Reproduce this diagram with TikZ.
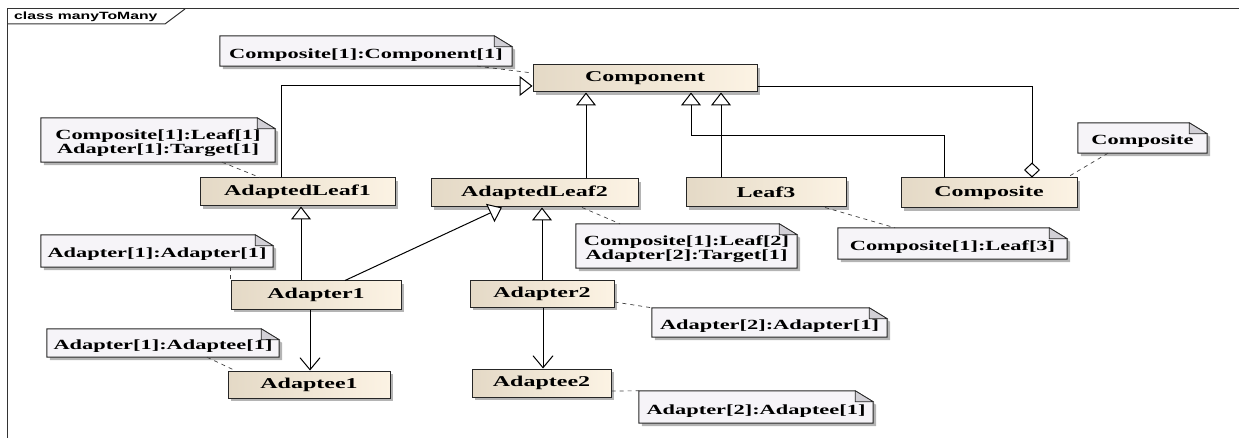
\documentclass[tikz,border=0pt]{standalone}
\usepackage{fontspec}
\usetikzlibrary{arrows.meta,shadows,calc,backgrounds}
\newfontfamily\umlfont{Liberation Serif}[FakeStretch=1.6]
\newfontfamily\framefont{Liberation Sans}[FakeStretch=1.5]
\definecolor{clsleft}{HTML}{E4D9C6}
\definecolor{clsright}{HTML}{FCF3E4}
\definecolor{notebg}{HTML}{F6F4F8}
\definecolor{notefold}{HTML}{D2D0D6}
\definecolor{shadowgray}{HTML}{B4B4B4}

\begin{document}
\begin{tikzpicture}[x=1pt,y=-1pt,
  cls/.style={draw=black!85, line width=1pt, left color=clsleft, right color=clsright,
    drop shadow={shadow xshift=3pt, shadow yshift=-3pt, fill=shadowgray, opacity=1},
    inner sep=0pt, font=\umlfont\bfseries\fontsize{15}{15}\selectfont},
  notebox/.style={inner sep=0pt, align=center, font=\umlfont\bfseries\fontsize{14}{14}\selectfont},
  gen/.style={line width=1pt, -{Triangle[open, length=13pt, width=20pt, fill=white]}},
  agg/.style={line width=1pt, -{Diamond[open, length=15pt, width=16pt, fill=white]}},
  assoc/.style={line width=1pt, -{Straight Barb[length=12pt, width=20pt]}},
  link/.style={line width=0.7pt, black!75, dash pattern=on 4pt off 4pt}]
  \useasboundingbox (0,0) rectangle (1239,438);

  \draw[line width=1pt, black!80] (7,438) -- (7,9) -- (1239,9);
  \draw[line width=1pt, black!80] (7,24) -- (165,24) -- (185,9);
  \node[anchor=west, inner sep=0pt, font=\framefont\bfseries\fontsize{10.5}{10.5}\selectfont] (title) at (14,16.5) {class manyToMany};

  \node[cls, minimum width=224, minimum height=27] (comp) at (645,78.5) {Component};
  \node[cls, minimum width=195, minimum height=28] (al1) at (297.5,192) {AdaptedLeaf1};
  \node[cls, minimum width=207, minimum height=28] (al2) at (534.5,193) {AdaptedLeaf2};
  \node[cls, minimum width=160, minimum height=29] (leaf3) at (766,192.5) {Leaf3};
  \node[cls, minimum width=176, minimum height=30] (compo) at (989,193) {Composite};
  \node[cls, minimum width=170, minimum height=28] (ad1) at (316,295) {Adapter1};
  \node[cls, minimum width=144, minimum height=26] (ad2) at (542,294) {Adapter2};
  \node[cls, minimum width=162, minimum height=27] (ae1) at (309,384.5) {Adaptee1};
  \node[cls, minimum width=139, minimum height=28] (ae2) at (541.5,383) {Adaptee2};

  \node[notebox, minimum width=292, minimum height=30] (nComp) at (366,51) {\rule{0pt}{17pt}Composite[1]:Component[1]};
  \node[notebox, minimum width=234, minimum height=44] (nLeaf1) at (158,140) {\rule{0pt}{16pt}Composite[1]:Leaf[1]\\Adapter[1]:Target[1]};
  \node[notebox, minimum width=129, minimum height=30] (nCompo) at (1142.5,138) {\rule{0pt}{15pt}Composite};
  \node[notebox, minimum width=221, minimum height=44] (nLeaf2) at (686.5,246) {\rule{0pt}{16pt}Composite[1]:Leaf[2]\\Adapter[2]:Target[1]};
  \node[notebox, minimum width=229, minimum height=31] (nLeaf3) at (952.5,243.5) {\rule{0pt}{17pt}Composite[1]:Leaf[3]};
  \node[notebox, minimum width=232, minimum height=32] (nAd1) at (157,251) {\rule{0pt}{15pt}Adapter[1]:Adapter[1]};
  \node[notebox, minimum width=232, minimum height=28] (nAe1) at (163,343) {\rule{0pt}{15pt}Adapter[1]:Adaptee[1]};
  \node[notebox, minimum width=235, minimum height=29] (nAd2) at (769.5,322.5) {\rule{0pt}{17pt}Adapter[2]:Adapter[1]};
  \node[notebox, minimum width=234, minimum height=32] (nAe2) at (756,407) {\rule{0pt}{17pt}Adapter[2]:Adaptee[1]};

  \begin{scope}[on background layer]
    \foreach \n in {nComp,nLeaf1,nCompo,nLeaf2,nLeaf3,nAd1,nAe1,nAd2,nAe2}{
      \fill[shadowgray] ($(\n.north west)+(3,3)$) -- ($(\n.north east)+(-15,3)$) -- ($(\n.north east)+(3,14)$)
        -- ($(\n.south east)+(3,3)$) -- ($(\n.south west)+(3,3)$) -- cycle;
      \filldraw[fill=notebg, draw=black!85, line width=1pt] (\n.north west) -- ($(\n.north east)+(-18,0)$)
        -- ($(\n.north east)+(0,11)$) -- (\n.south east) -- (\n.south west) -- cycle;
      \filldraw[fill=notefold, draw=black!85, line width=0.7pt] ($(\n.north east)+(-18,0)$)
        -- ($(\n.north east)+(-18,11)$) -- ($(\n.north east)+(0,11)$) -- cycle;
    }
  \end{scope}

  \draw[gen] (al1.north -| 281,0) |- (comp.west |- 0,86);
  \draw[gen] (586,0 |- al2.north) -- (586,0 |- comp.south);
  \draw[gen] (721,0 |- leaf3.north) -- (721,0 |- comp.south);
  \draw[gen] (944,0 |- compo.north) |- (691,136) -- (691,0 |- comp.south);
  \draw[agg] (comp.east |- 0,87) -| (1032,0 |- compo.north);
  \draw[gen] (301,0 |- ad1.north) -- (301,0 |- al1.south);
  \draw[gen] (345,0 |- ad1.north) -- (502,0 |- al2.south);
  \draw[gen] (542,0 |- ad2.north) -- (542,0 |- al2.south);
  \draw[assoc] (310,0 |- ad1.south) -- (310,0 |- ae1.north);
  \draw[assoc] (543,0 |- ad2.south) -- (543,0 |- ae2.north);

  \draw[link] (nComp.south -| 477,0) -- (comp.west |- 0,73);
  \draw[link] (nLeaf1.south -| 222,0) -- (al1.north -| 260,0);
  \draw[link] (nCompo.south -| 1108,0) -- (compo.north -| 1067,0);
  \draw[link] (al2.south -| 582,0) -- (nLeaf2.north -| 620,0);
  \draw[link] (leaf3.south -| 825,0) -- (nLeaf3.north -| 895,0);
  \draw[link] (nAd1.south -| ad1.west) -- (ad1.north west);
  \draw[link] (nAe1.south -| 207,0) -- (ae1.north -| 235,0);
  \draw[link] (ad2.east |- 0,302) -- (nAd2.north west);
  \draw[link] (ae2.east |- 0,391) -- (nAe2.north west);
\end{tikzpicture}
\end{document}
